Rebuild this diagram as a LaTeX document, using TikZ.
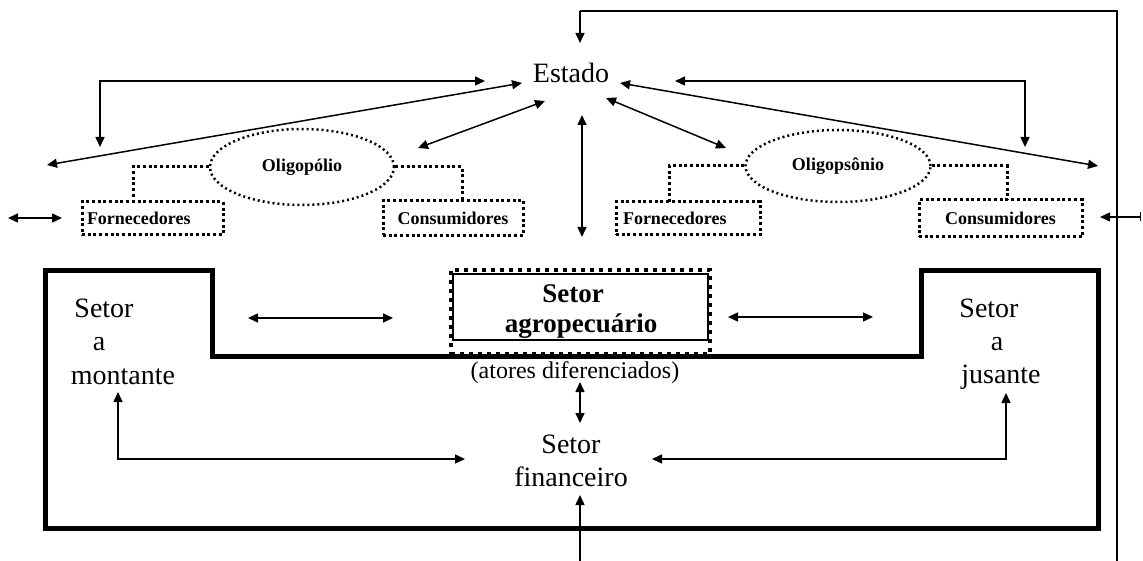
\documentclass[tikz,border=0pt]{standalone}
\usepackage{fontspec}
\setmainfont{Liberation Serif}
\usetikzlibrary{arrows.meta,shapes.geometric}
\begin{document}
\begin{tikzpicture}[x=1pt,y=-1pt,
  tip/.style={Triangle[length=10pt,width=9pt]},
  arr/.style={line width=1.5pt,-{Triangle[length=10pt,width=9pt]}},
  darr/.style={line width=1.5pt,{Triangle[length=10pt,width=9pt]}-{Triangle[length=10pt,width=9pt]}},
  big/.style={inner sep=0pt,anchor=base,font=\fontsize{28}{32}\selectfont},
  mid/.style={inner sep=0pt,anchor=base,font=\fontsize{24}{28}\selectfont},
  agrotxt/.style={inner sep=0pt,anchor=base,font=\fontsize{27}{30}\bfseries\selectfont},
  smallbox/.style={draw,line width=3pt,dash pattern=on 3pt off 2.7pt,inner ysep=0pt,font=\fontsize{18}{20}\bfseries\selectfont},
  dotline/.style={line width=3pt,dash pattern=on 3pt off 2.7pt},
  dotell/.style={draw,ellipse,line width=2.5pt,dash pattern=on 2pt off 3pt,inner sep=0pt,font=\fontsize{18}{20}\bfseries\selectfont},
  frame/.style={line width=5pt,line join=miter},
  thin/.style={line width=2pt}
]
\useasboundingbox (0,0) rectangle (1143,561);

% ---- texts ----
\node[big] (estado) at (571,83) {Estado};
\node[big] (mon1) at (104,318) {Setor};
\node[big] (mon2) at (99,350) {a};
\node[big] (mon3) at (123,384) {montante};
\node[big] (jus1) at (989,317) {Setor};
\node[big] (jus2) at (997,350) {a};
\node[big] (jus3) at (1001,383) {jusante};
\node[big] (fin1) at (571,453) {Setor};
\node[big] (fin2) at (571,486) {financeiro};
\node[mid] (atores) at (575,378) {(atores diferenciados)};

% ---- ellipses and dotted boxes ----
\node[dotell,minimum width=184pt,minimum height=76pt] (olig) at (302,167) {Oligopólio};
\node[dotell,minimum width=185pt,minimum height=72pt] (olis) at (838,166) {Oligopsônio};

\node[smallbox,minimum height=33pt,text width=131pt,inner xsep=5pt,align=left] (fl) at (152.5,218.5) {Fornecedores};
\node[smallbox,minimum height=35pt,minimum width=140pt] (cl) at (453,218) {Consumidores};
\node[smallbox,minimum height=33pt,text width=130pt,inner xsep=7pt,align=left] (fr) at (688,218.5) {Fornecedores};
\node[smallbox,minimum height=37pt,minimum width=163pt] (cr) at (1000.5,218.5) {Consumidores};

\coordinate (flc) at (133,202);
\coordinate (clc) at (462,200);
\coordinate (frc) at (669,202);
\coordinate (crc) at (1007,200);
\draw[dotline] (olig.west) -| (flc);
\draw[dotline] (olig.east) -| (clc);
\draw[dotline] (olis.west) -| (frc);
\draw[dotline] (olis.east) -| (crc);

% ---- agro box ----
\node[draw,line width=4pt,dash pattern=on 4pt off 5pt,minimum width=259pt,minimum height=84pt,inner sep=0pt] (agrobox) at (580.5,312) {};
\node[draw,line width=1.5pt,minimum width=255pt,minimum height=66pt,inner sep=0pt] (agro) at (580.5,307) {};
\node[agrotxt] (agro1) at (573,302) {Setor};
\node[agrotxt] (agro2) at (581,332) {agropecuário};

% ---- thick frame ----
\draw[frame] (45,271) -- (212,271) -- (212,356) -- (921,356) -- (921,271) -- (1098,271) -- (1098,528) -- (45,528) -- cycle;

% ---- outer feedback line ----
\coordinate (t1) at (580,11);
\coordinate (t2) at (1117,11);
\coordinate (t3) at (1117,561);
\coordinate (eT) at (580,43);
\draw[thin] (t3) -- (t2) -- (t1);
\draw[arr] (t1) -- (eT);

% ---- Estado arrows ----
\coordinate (le1) at (485,81);
\coordinate (le2) at (100,81);
\coordinate (le3) at (100,147);
\draw[darr] (le1) -- (le2) -- (le3);
\coordinate (re1) at (675,81);
\coordinate (re2) at (1025,81);
\coordinate (re3) at (1025,147);
\draw[darr] (re1) -- (re2) -- (re3);
\coordinate (ld1) at (522,83);
\coordinate (ld2) at (47,165);
\draw[darr] (ld1) -- (ld2);
\coordinate (rd1) at (620,83);
\coordinate (rd2) at (1098,166);
\draw[darr] (rd1) -- (rd2);
\coordinate (il1) at (545,101);
\coordinate (il2) at (418,148);
\draw[darr] (il1) -- (il2);
\coordinate (ir1) at (606,98);
\coordinate (ir2) at (726,148);
\draw[darr] (ir1) -- (ir2);
\coordinate (v1) at (582,115);
\coordinate (v2) at (582,237);
\draw[darr] (v1) -- (v2);

% ---- side arrows ----
\coordinate (ls1) at (8,218);
\coordinate (ls2) at (62,218);
\draw[darr] (ls1) -- (ls2);
\coordinate (rs1) at (1141,217);
\coordinate (rs2) at (1100,217);
\draw[line width=1.5pt,{Bar[width=9pt]}-{Triangle[length=10pt,width=9pt]}] (rs1) -- (rs2);

% ---- inside frame ----
\coordinate (fa1) at (248,318);
\coordinate (fa2) at (393,318);
\draw[darr] (fa1) -- (fa2);
\coordinate (fb1) at (728,317);
\coordinate (fb2) at (873,317);
\draw[darr] (fb1) -- (fb2);
\coordinate (af1) at (580,382);
\coordinate (af2) at (580,423);
\draw[darr] (af1) -- (af2);
\coordinate (b0) at (580,561);
\coordinate (b1) at (580,495);
\draw[arr] (b0) -- (b1);
\coordinate (m1) at (118,392);
\coordinate (m2) at (118,459);
\coordinate (m3) at (465,459);
\draw[darr] (m1) -- (m2) -- (m3);
\coordinate (j1) at (1006,393);
\coordinate (j2) at (1006,459);
\coordinate (j3) at (652,459);
\draw[darr] (j1) -- (j2) -- (j3);
\end{tikzpicture}
\end{document}
